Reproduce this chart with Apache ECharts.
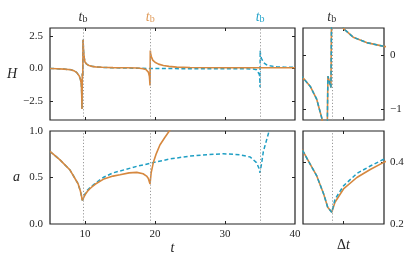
<!DOCTYPE html>
<html>
<head>
<meta charset="utf-8">
<script src="https://cdn.jsdelivr.net/npm/echarts@6/dist/echarts.min.js"></script>
<style>
html,body{margin:0;padding:0;background:#fff;}
#chart{width:415px;height:261px;}
</style>
</head>
<body>
<div id="chart"></div>
<script>
// ---- data (t, value) ----
const tbTimes = [9.71, 19.32, 35.02];

const hOrange = [[5,0],[6,-0.02],[7,-0.05],[8,-0.1],[8.5,-0.2],[8.8,-0.3],[9.0,-0.42],[9.18,-0.58],[9.34,-0.82],[9.47,-1.18],[9.52,-1.8],[9.55,-2.5],[9.57,-3.1],[9.615,-0.39],[9.69,-0.6],[9.72,2.2],[9.8,1.3],[9.9,0.8],[10.0,0.49],[10.24,0.33],[10.57,0.23],[11.0,0.16],[11.5,0.12],[12.5,0.09],[14,0.06],[16,0.05],[17.5,0.03],[18.3,-0.02],[18.7,-0.08],[19.05,-0.28],[19.2,-0.6],[19.29,-1.3],[19.33,1.37],[19.4,1.05],[19.5,0.87],[19.7,0.62],[20.0,0.48],[20.5,0.33],[21.2,0.23],[22,0.16],[23.1,0.1],[25,0.07],[30,0.05],[35,0.05],[40,0.05]];

const hBlue = [[5,0],[6,-0.02],[7,-0.05],[8,-0.1],[8.5,-0.2],[8.8,-0.3],[9.0,-0.42],[9.18,-0.58],[9.34,-0.82],[9.47,-1.18],[9.52,-1.8],[9.55,-2.5],[9.57,-3.1],[9.615,-0.39],[9.69,-0.6],[9.72,2.2],[9.8,1.3],[9.9,0.8],[10.0,0.49],[10.24,0.33],[10.57,0.23],[11.0,0.16],[11.5,0.12],[12.5,0.08],[14,0.05],[16,0.03],[19,0.0],[22,-0.01],[26,-0.02],[30,-0.02],[33,-0.03],[34.05,-0.05],[34.5,-0.1],[34.76,-0.2],[34.9,-0.45],[34.98,-0.9],[35.0,-1.43],[35.03,1.37],[35.08,0.95],[35.24,0.74],[35.5,0.45],[35.95,0.28],[36.6,0.18],[37.4,0.13],[38.5,0.1],[40,0.08]];

const aOrange = [[5,0.78],[6.43,0.69],[7.86,0.58],[8.8,0.46],[9.0,0.435],[9.18,0.392],[9.34,0.355],[9.51,0.297],[9.61,0.254],[9.71,0.238],[9.79,0.27],[10.0,0.313],[10.33,0.35],[10.66,0.376],[10.98,0.398],[11.5,0.43],[12.6,0.48],[14,0.515],[15,0.53],[16.3,0.55],[17.4,0.555],[18.3,0.54],[18.8,0.515],[19.05,0.49],[19.29,0.43],[19.45,0.55],[19.76,0.66],[20.2,0.76],[20.7,0.85],[21.4,0.93],[22.14,1.01],[22.5,1.05]];

const aBlue = [[5,0.78],[6.43,0.69],[7.86,0.58],[8.8,0.46],[9.0,0.435],[9.18,0.392],[9.34,0.355],[9.51,0.297],[9.61,0.254],[9.71,0.238],[9.79,0.28],[10.0,0.323],[10.33,0.363],[10.66,0.387],[10.98,0.408],[11.5,0.44],[12.6,0.5],[14,0.55],[15,0.57],[17.4,0.62],[19.76,0.66],[22.14,0.70],[25,0.73],[27.4,0.745],[29.76,0.755],[32.1,0.745],[33.6,0.72],[34.5,0.66],[34.85,0.6],[35.0,0.55],[35.2,0.64],[35.48,0.78],[36.3,1.0],[36.5,1.05]];

// tick values
const mainXLabels = [10, 20, 30, 40];
const mainXTicks = [10, 20, 30];
const hTicks = [-2.5, 0, 2.5];
const aTicks = [0, 0.5, 1];
const zoomXTicks = [10];
const zoomHTicks = [-1, 0];
const zoomATicks = [0.2, 0.4];

// ---- styles ----
const ORANGE = '#d6883f';
const BLUE = '#1f9fc4';
const SERIF = "'Liberation Serif','DejaVu Serif',serif";
const TXT = '#222';
const minus = s => String(s).replace('-', '\u2212');

const grids = [
  {left: 50, top: 28, width: 245, height: 92},
  {left: 50, top: 131, width: 245, height: 93},
  {left: 303, top: 28, width: 81, height: 92},
  {left: 303, top: 131, width: 81, height: 93}
].map(g => Object.assign({show: true, borderColor: '#222', borderWidth: 1.2, backgroundColor: 'transparent'}, g));

function tickCfg(vals) {
  return {show: true, inside: true, length: 3, customValues: vals, lineStyle: {color: '#222', width: 1}};
}
function xAx(gi, min, max, pos, ticks, labels, name) {
  return {
    type: 'value', gridIndex: gi, position: pos, min: min, max: max,
    axisLine: {show: false, onZero: false}, splitLine: {show: false},
    axisTick: tickCfg(ticks),
    axisLabel: labels ? {show: true, customValues: labels, margin: 5, color: TXT, fontFamily: SERIF, fontSize: 11} : {show: false},
    name: name || '', nameLocation: 'middle', nameGap: 16,
    nameTextStyle: {fontFamily: SERIF, fontStyle: 'italic', fontSize: 14, color: TXT}
  };
}
function yAx(gi, min, max, pos, ticks, labels, fmt, name, gap) {
  return {
    type: 'value', gridIndex: gi, position: pos, min: min, max: max,
    axisLine: {show: false, onZero: false}, splitLine: {show: false},
    axisTick: tickCfg(ticks),
    axisLabel: labels ? {show: true, customValues: labels, margin: pos === 'left' ? 7 : 6, color: TXT, fontFamily: SERIF, fontSize: 11, formatter: fmt} : {show: false},
    name: name || '', nameLocation: 'middle', nameRotate: 0, nameGap: gap || 30,
    nameTextStyle: {fontFamily: SERIF, fontStyle: 'italic', fontSize: 14, color: TXT}
  };
}

const xAxis = [
  xAx(0, 5, 40, 'bottom', mainXTicks, null),
  xAx(0, 5, 40, 'top', mainXTicks, null),
  xAx(1, 5, 40, 'bottom', mainXTicks, mainXLabels, 't'),
  xAx(1, 5, 40, 'top', mainXTicks, null),
  xAx(2, 9, 11, 'bottom', zoomXTicks, null),
  xAx(2, 9, 11, 'top', zoomXTicks, null),
  xAx(3, 9, 11, 'bottom', zoomXTicks, null, '\u0394t'),
  xAx(3, 9, 11, 'top', zoomXTicks, null)
];
xAxis[6].nameTextStyle = {fontFamily: SERIF, fontSize: 14, color: TXT, rich: {}};
xAxis[6].name = '{u|\u0394}{i|t}';
xAxis[6].nameTextStyle.rich = {u: {fontFamily: SERIF, fontSize: 14, color: TXT}, i: {fontFamily: SERIF, fontStyle: 'italic', fontSize: 14, color: TXT}};
xAxis[2].nameGap = 14;
xAxis[6].nameGap = 14;

const fmt1 = v => minus(v.toFixed(1));
const yAxis = [
  yAx(0, -3.95, 3.1, 'left', hTicks, hTicks, fmt1, 'H', 32),
  yAx(0, -3.95, 3.1, 'right', hTicks, null),
  yAx(1, 0, 1, 'left', [0.5], aTicks, fmt1, 'a', 30),
  yAx(1, 0, 1, 'right', [0.5], null),
  yAx(2, -1.2, 0.5, 'left', zoomHTicks, null),
  yAx(2, -1.2, 0.5, 'right', zoomHTicks, zoomHTicks, v => minus(v)),
  yAx(3, 0.2, 0.5, 'left', [0.4], null),
  yAx(3, 0.2, 0.5, 'right', [0.4], zoomATicks, v => v.toFixed(1))
];

function tbLabel(color) {
  return {
    show: true, position: 'end', distance: 4,
    formatter: '{i|t}{s|b}',
    rich: {
      i: {fontFamily: SERIF, fontStyle: 'italic', fontSize: 14, color: color, lineHeight: 14, verticalAlign: 'top'},
      s: {fontFamily: SERIF, fontSize: 10, color: color, lineHeight: 10, verticalAlign: 'bottom', padding: [7, 0, 0, 0]}
    }
  };
}
function markLines(times, labelColors) {
  return {
    silent: true, symbol: ['none', 'none'], animation: false,
    lineStyle: {color: '#9a9a9a', type: [1.2, 2], width: 1},
    label: {show: false},
    data: times.map((t, i) => {
      const d = {xAxis: t};
      if (labelColors && labelColors[i]) d.label = tbLabel(labelColors[i]);
      return d;
    })
  };
}

// main panels: orange drawn over blue; zoom panels: blue dashes over orange
function lineS(gi, data, color, dashed, z, ml) {
  const s = {
    type: 'line', xAxisIndex: gi * 2, yAxisIndex: gi * 2, data: data,
    showSymbol: false, symbol: 'none', clip: true, animation: false,
    lineStyle: {color: color, width: dashed ? 1.5 : 1.6, type: dashed ? [4, 2.5] : 'solid'},
    z: z
  };
  if (ml) s.markLine = ml;
  return s;
}

const series = [
  lineS(0, hOrange, ORANGE, false, 3, markLines(tbTimes, ['#333', '#e09c5c', '#2aa6cc'])),
  lineS(0, hBlue, BLUE, true, 2),
  lineS(1, aOrange, ORANGE, false, 3, markLines(tbTimes, null)),
  lineS(1, aBlue, BLUE, true, 2),
  lineS(2, hOrange, ORANGE, false, 2, markLines([tbTimes[0]], ['#333'])),
  lineS(2, hBlue, BLUE, true, 3),
  lineS(3, aOrange, ORANGE, false, 2, markLines([tbTimes[0]], null)),
  lineS(3, aBlue, BLUE, true, 3)
];

const chart = echarts.init(document.getElementById('chart'), null, {renderer: 'canvas'});
chart.setOption({
  animation: false,
  backgroundColor: '#fff',
  grid: grids,
  xAxis: xAxis,
  yAxis: yAxis,
  series: series
});
</script>
</body>
</html>
